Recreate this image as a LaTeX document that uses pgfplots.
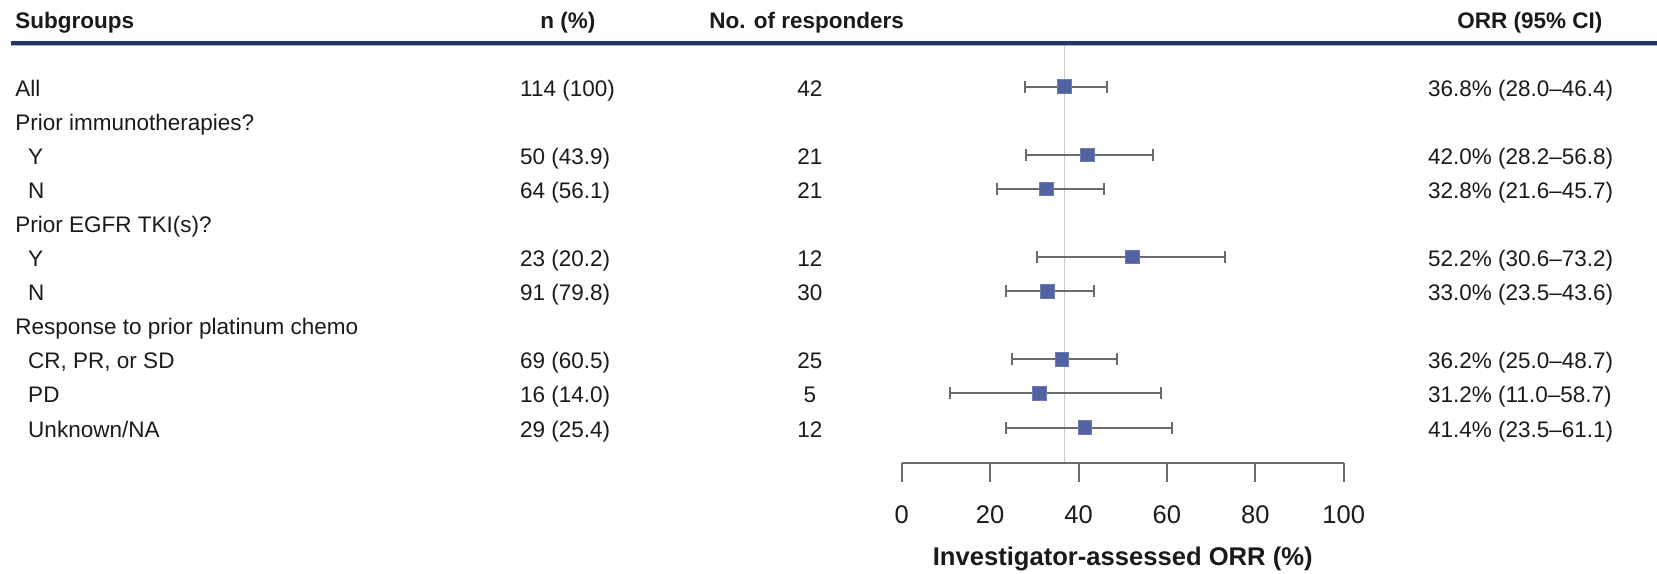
\documentclass[border=0pt]{standalone}
\usepackage{pgfplots}
\pgfplotsset{compat=1.18}
\usepackage{pgfplotstable}
\usepackage{fontspec}
\setmainfont{Liberation Sans}
\definecolor{txt}{HTML}{1A1A1A}
\definecolor{navy}{HTML}{27346B}
\definecolor{navylight}{HTML}{A9AFC6}
\definecolor{refline}{HTML}{CACAD6}
\definecolor{bargrey}{HTML}{6B6B6B}
\definecolor{mk}{HTML}{5262A2}

% x: ORR; y: row centre in pixel units (0 at top, 573 at bottom)
\pgfplotstableread{
x    y      lo    hi
36.8 86.5   28.0  46.4
42.0 154.7  28.2  56.8
32.8 188.8  21.6  45.7
52.2 257.0  30.6  73.2
33.0 291.1  23.5  43.6
36.2 359.3  25.0  48.7
31.2 393.4  11.0  58.7
41.4 427.5  23.5  61.1
}\orrdata

\begin{document}
\begin{tikzpicture}[font=\fontsize{11.25}{13}\selectfont, text=txt, every node/.style={inner sep=0pt}]
\begin{axis}[
  name=ax,
  scale only axis,
  width=828.5pt, height=286.5pt,
  xmin=-204.0, xmax=170.88,
  ymin=0, ymax=573, y dir=reverse,
  hide axis,
  clip=false,
]
% header
\node[anchor=base west, font=\fontsize{11.25}{13}\selectfont\bfseries] at (axis cs:-200.6,28) {Subgroups};
\node[anchor=base, font=\fontsize{11.25}{13}\selectfont\bfseries] at (axis cs:-75.5,28) {n (\%)};
\node[anchor=base, font=\fontsize{11.25}{13}\selectfont\bfseries] at (axis cs:-21.5,28) {No. of responders};
\node[anchor=base, font=\fontsize{11.25}{13}\selectfont\bfseries] at (axis cs:142.1,28) {ORR (95\% CI)};
\draw[navy, line width=2pt] (axis cs:-201.5,42.5) -- (axis cs:170.88,42.5);
\draw[navylight, line width=0.5pt] (axis cs:-201.5,45.2) -- (axis cs:170.88,45.2);

% reference line
\draw[refline, line width=0.8pt] (axis cs:36.8,46) -- (axis cs:36.8,463);

% row labels
\node[anchor=base west] at (axis cs:-200.6,96)  {All};
\node[anchor=base west] at (axis cs:-200.6,130.1) {Prior immunotherapies?};
\node[anchor=base west] at (axis cs:-197.7,164.2) {Y};
\node[anchor=base west] at (axis cs:-197.7,198.3) {N};
\node[anchor=base west] at (axis cs:-200.6,232.4) {Prior EGFR TKI(s)?};
\node[anchor=base west] at (axis cs:-197.7,266.5) {Y};
\node[anchor=base west] at (axis cs:-197.7,300.6) {N};
\node[anchor=base west] at (axis cs:-200.6,334.7) {Response to prior platinum chemo};
\node[anchor=base west] at (axis cs:-197.7,368.8) {CR, PR, or SD};
\node[anchor=base west] at (axis cs:-197.7,402.9) {PD};
\node[anchor=base west] at (axis cs:-197.7,437.0) {Unknown/NA};

% n (%)
\node[anchor=base west] at (axis cs:-86.4,96)  {114 (100)};
\node[anchor=base west] at (axis cs:-86.4,164.2) {50 (43.9)};
\node[anchor=base west] at (axis cs:-86.4,198.3) {64 (56.1)};
\node[anchor=base west] at (axis cs:-86.4,266.5) {23 (20.2)};
\node[anchor=base west] at (axis cs:-86.4,300.6) {91 (79.8)};
\node[anchor=base west] at (axis cs:-86.4,368.8) {69 (60.5)};
\node[anchor=base west] at (axis cs:-86.4,402.9) {16 (14.0)};
\node[anchor=base west] at (axis cs:-86.4,437.0) {29 (25.4)};

% responders
\node[anchor=base] at (axis cs:-20.8,96)  {42};
\node[anchor=base] at (axis cs:-20.8,164.2) {21};
\node[anchor=base] at (axis cs:-20.8,198.3) {21};
\node[anchor=base] at (axis cs:-20.8,266.5) {12};
\node[anchor=base] at (axis cs:-20.8,300.6) {30};
\node[anchor=base] at (axis cs:-20.8,368.8) {25};
\node[anchor=base] at (axis cs:-20.8,402.9) {5};
\node[anchor=base] at (axis cs:-20.8,437.0) {12};

% ORR text
\node[anchor=base west] at (axis cs:119.0,96)  {36.8\% (28.0--46.4)};
\node[anchor=base west] at (axis cs:119.0,164.2) {42.0\% (28.2--56.8)};
\node[anchor=base west] at (axis cs:119.0,198.3) {32.8\% (21.6--45.7)};
\node[anchor=base west] at (axis cs:119.0,266.5) {52.2\% (30.6--73.2)};
\node[anchor=base west] at (axis cs:119.0,300.6) {33.0\% (23.5--43.6)};
\node[anchor=base west] at (axis cs:119.0,368.8) {36.2\% (25.0--48.7)};
\node[anchor=base west] at (axis cs:119.0,402.9) {31.2\% (11.0--58.7)};
\node[anchor=base west] at (axis cs:119.0,437.0) {41.4\% (23.5--61.1)};

% forest points
\addplot[
  only marks,
  mark=square*,
  mark size=3.4pt,
  mark options={fill=mk, draw=mk!85!white},
  error bars/.cd,
    x dir=both, x explicit,
    error bar style={bargrey, line width=1pt},
    error mark options={rotate=90, bargrey, line width=1pt, mark size=3pt},
] table[
  x=x, y=y,
  x error plus expr=\thisrow{hi}-\thisrow{x},
  x error minus expr=\thisrow{x}-\thisrow{lo},
] {\orrdata};

% x axis
\draw[bargrey, line width=1pt] (axis cs:0,463) -- (axis cs:100,463);
\pgfplotsinvokeforeach{0,20,40,60,80,100}{
  \draw[bargrey, line width=1pt] (axis cs:#1,463) -- (axis cs:#1,482);
  \node[anchor=base, font=\fontsize{12.75}{14}\selectfont] at (axis cs:#1,523) {#1};
}
\node[anchor=base, font=\fontsize{12.8}{14}\selectfont\bfseries] at (axis cs:50,565) {Investigator-assessed ORR (\%)};
\end{axis}
\pgfresetboundingbox
\path (ax.south west) rectangle (ax.north east);
\end{tikzpicture}
\end{document}
